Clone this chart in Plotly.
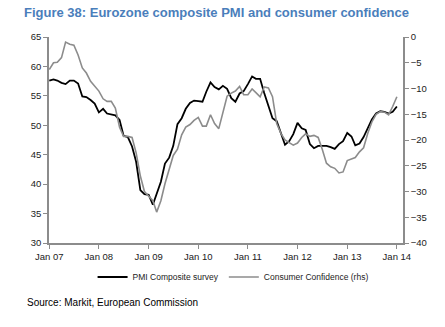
import plotly.graph_objects as go
import pandas as pd

months = pd.date_range("2007-01-01", periods=85, freq="MS")

pmi_composite = [
    57.6, 57.8, 57.6, 57.2, 57.0, 57.6, 57.6, 57.1, 54.9, 54.8, 54.3, 53.7,
    52.2, 52.8, 52.0, 51.9, 51.7, 50.9, 48.2, 48.0, 46.4, 43.8, 39.0, 38.3,
    38.2, 36.5, 38.2, 40.4, 43.5, 44.5, 46.5, 50.2, 51.2, 52.8, 53.8, 54.2,
    54.1, 54.0, 55.7, 57.3, 56.5, 56.1, 56.7, 56.2, 54.6, 54.0, 55.4, 55.8,
    57.0, 58.3, 57.9, 57.9, 55.5, 53.3, 51.2, 50.7, 48.8, 46.7, 47.3, 48.5,
    50.4, 49.5, 49.2, 46.8, 46.1, 46.5, 46.5, 46.5, 46.3, 46.0, 46.8, 47.3,
    48.7, 48.1, 46.6, 46.9, 48.0, 49.6, 51.0, 52.0, 52.4, 52.3, 52.0, 52.3,
    53.2,
]

consumer_confidence = [
    -6.3, -5.0, -4.9, -4.0, -1.0, -1.4, -1.6, -3.5, -6.0, -7.0, -8.6, -9.6,
    -10.5, -12.0, -12.5, -12.5, -13.8, -17.5, -19.3, -19.3, -19.5, -22.5, -27.0, -30.0,
    -30.8, -31.8, -34.0, -31.8, -28.5, -25.5, -23.0, -21.8, -19.0, -17.5, -17.0, -16.2,
    -15.6, -17.3, -17.3, -15.1, -16.8, -17.8, -14.8, -11.5, -10.9, -10.5, -9.6, -11.2,
    -11.2, -10.1, -10.8, -11.6, -9.7, -9.9, -11.6, -16.8, -18.7, -20.0, -20.5, -21.0,
    -20.6, -19.5, -18.8, -19.3, -19.1, -19.5, -21.8, -24.5, -25.2, -25.5, -26.4, -26.2,
    -24.0, -23.6, -23.4, -22.3, -21.5, -18.7, -16.5, -15.0, -14.5, -14.6, -15.1, -13.5,
    -11.6,
]

x_tick_vals = ["2007-01-01", "2008-01-01", "2009-01-01", "2010-01-01",
               "2011-01-01", "2012-01-01", "2013-01-01", "2014-01-01"]
x_tick_text = ["Jan 07", "Jan 08", "Jan 09", "Jan 10", "Jan 11", "Jan 12", "Jan 13", "Jan 14"]
left_ticks = [30, 35, 40, 45, 50, 55, 60, 65]
right_ticks = [-40, -35, -30, -25, -20, -15, -10, -5, 0]

font_family = "Liberation Sans Narrow, Liberation Sans, Arial, sans-serif"
main_font = "Liberation Sans, Arial, sans-serif"
axis_color = "#8c8c8c"
tick_font = dict(family=font_family, size=9.5, color="#222222")

fig = go.Figure()
fig.add_trace(go.Scatter(
    x=months, y=consumer_confidence, name="Consumer Confidence (rhs)",
    mode="lines", line=dict(color="#8c8c8c", width=1.6), yaxis="y2",
))
fig.add_trace(go.Scatter(
    x=months, y=pmi_composite, name="PMI Composite survey",
    mode="lines", line=dict(color="#000000", width=1.8), yaxis="y",
))

fig.update_layout(
    width=445, height=327,
    margin=dict(l=49, r=42, t=37, b=84),
    paper_bgcolor="white", plot_bgcolor="white",
    showlegend=True,
    legend=dict(
        orientation="h", x=0.52, xanchor="center", y=-0.165, yanchor="middle",
        font=dict(family=font_family, size=8.5, color="#222222"),
        traceorder="reversed", itemwidth=30,
        bgcolor="rgba(0,0,0,0)",
    ),
    title=dict(
        text="<b>Figure 38: Eurozone composite PMI and consumer confidence</b>",
        x=24 / 445, xref="container", xanchor="left",
        y=1 - 12 / 327, yref="container", yanchor="middle",
        font=dict(family=main_font, size=13, color="#4a7ebb"),
    ),
    xaxis=dict(
        type="date",
        range=["2006-12-30", "2014-02-15"],
        tickvals=x_tick_vals, ticktext=x_tick_text,
        showgrid=False, zeroline=False,
        showline=True, linecolor=axis_color, linewidth=1.5,
        ticks="outside", ticklen=4, tickcolor=axis_color, tickwidth=1,
        tickfont=tick_font,
    ),
    yaxis=dict(
        range=[30, 65], tickvals=left_ticks,
        showgrid=False, zeroline=False,
        showline=True, linecolor=axis_color, linewidth=1.5,
        ticks="outside", ticklen=4, tickcolor=axis_color, tickwidth=1,
        tickfont=tick_font,
    ),
    yaxis2=dict(
        range=[-40, 0], tickvals=right_ticks,
        overlaying="y", side="right",
        showgrid=False, zeroline=False,
        showline=True, linecolor=axis_color, linewidth=1.5,
        ticks="outside", ticklen=4, tickcolor=axis_color, tickwidth=1,
        tickfont=tick_font,
    ),
    annotations=[dict(
        text="Source: Markit, European Commission",
        xref="paper", yref="paper", x=-24 / 354, y=-59 / 206,
        xanchor="left", yanchor="middle", showarrow=False,
        font=dict(family=main_font, size=10, color="#000000"),
    )],
)

fig.write_html("out.html")
